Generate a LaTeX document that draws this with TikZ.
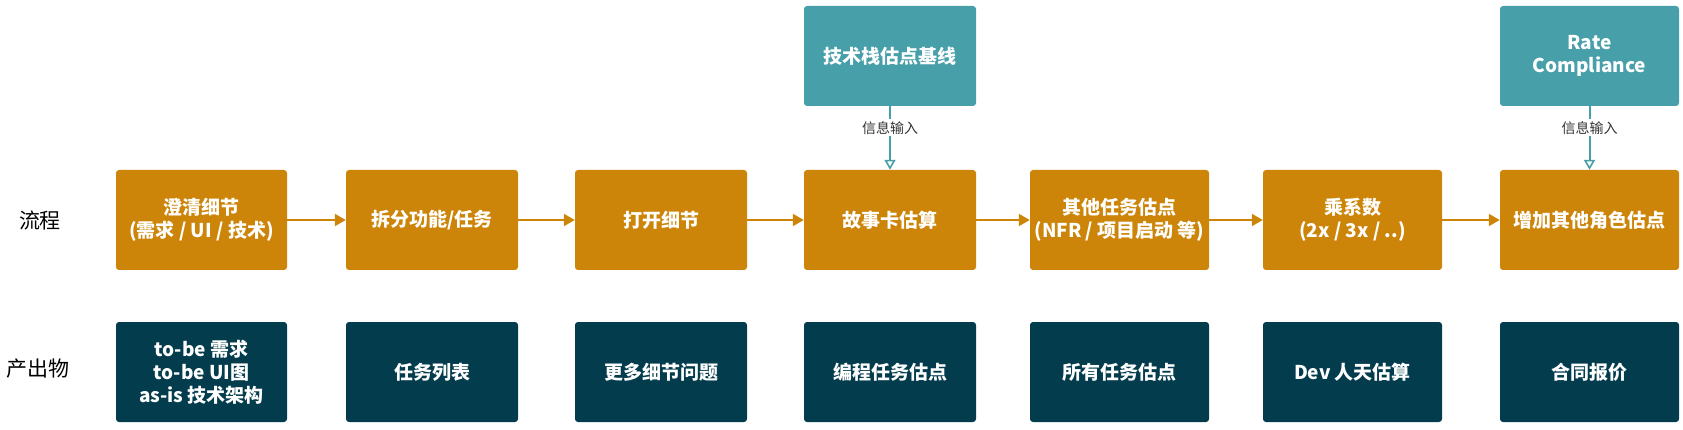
\documentclass[tikz,border=0pt]{standalone}
\usepackage{fontspec}
\setmainfont{Noto Sans CJK SC}
\usetikzlibrary{arrows.meta}
\definecolor{procC}{HTML}{CC8508}
\definecolor{topC}{HTML}{479FAA}
\definecolor{outC}{HTML}{033C4D}
\definecolor{lblC}{HTML}{333333}
\tikzset{
  box/.style={rounded corners=3pt, minimum height=100pt, inner sep=0pt, align=center,
    text=white, font=\bfseries\fontsize{19}{23}\selectfont},
  proc/.style={box, fill=procC},
  outp/.style={box, fill=outC},
  topb/.style={box, fill=topC},
  rowlabel/.style={font=\fontsize{21}{24}\selectfont, text=black, inner sep=0pt},
  flow/.style={draw=procC, line width=2pt, -{Triangle[length=11pt, width=12pt]}},
  info/.style={draw=topC, line width=2pt, -{Triangle[open, length=10pt, width=11pt, line width=1.6pt]}},
  infolabel/.style={fill=white, text=lblC, font=\fontsize{14}{16}\selectfont, inner sep=2pt},
}
\begin{document}
\begin{tikzpicture}[x=1pt, y=-1pt]
\useasboundingbox (0,0) rectangle (1683,430);
% row labels
\node[rowlabel] (lflow) at (40,220) {流程};
\node[rowlabel] (lout) at (38,369) {产出物};
% top boxes
\node[topb, minimum width=172pt] (t1) at (890,56) {技术栈估点基线};
\node[topb, minimum width=179pt] (t2) at (1589.5,56) {Rate\\Compliance};
% process boxes
\node[proc, minimum width=171pt] (p1) at (201.5,220) {澄清细节\\(需求 / UI / 技术)};
\node[proc, minimum width=172pt] (p2) at (432,220) {拆分功能/任务};
\node[proc, minimum width=172pt] (p3) at (661,220) {打开细节};
\node[proc, minimum width=172pt] (p4) at (890,220) {故事卡估算};
\node[proc, minimum width=179pt] (p5) at (1119.5,220) {其他任务估点\\(NFR / 项目启动 等)};
\node[proc, minimum width=179pt] (p6) at (1352.5,220) {乘系数\\(2x / 3x / ..)};
\node[proc, minimum width=179pt] (p7) at (1589.5,220) {增加其他角色估点};
% output boxes
\node[outp, minimum width=171pt] (o1) at (201.5,372) {to-be 需求\\to-be UI图\\as-is 技术架构};
\node[outp, minimum width=172pt] (o2) at (432,372) {任务列表};
\node[outp, minimum width=172pt] (o3) at (661,372) {更多细节问题};
\node[outp, minimum width=172pt] (o4) at (890,372) {编程任务估点};
\node[outp, minimum width=179pt] (o5) at (1119.5,372) {所有任务估点};
\node[outp, minimum width=179pt] (o6) at (1352.5,372) {Dev 人天估算};
\node[outp, minimum width=179pt] (o7) at (1589.5,372) {合同报价};
% flow arrows
\draw[flow] (p1) -- (p2);
\draw[flow] (p2) -- (p3);
\draw[flow] (p3) -- (p4);
\draw[flow] (p4) -- (p5);
\draw[flow] (p5) -- (p6);
\draw[flow] (p6) -- (p7);
% info arrows
\draw[info] (t1) -- node[infolabel, pos=0.34] (i1) {信息输入} (p4);
\draw[info] (t2) -- node[infolabel, pos=0.34] (i2) {信息输入} (p7);
\end{tikzpicture}
\end{document}
